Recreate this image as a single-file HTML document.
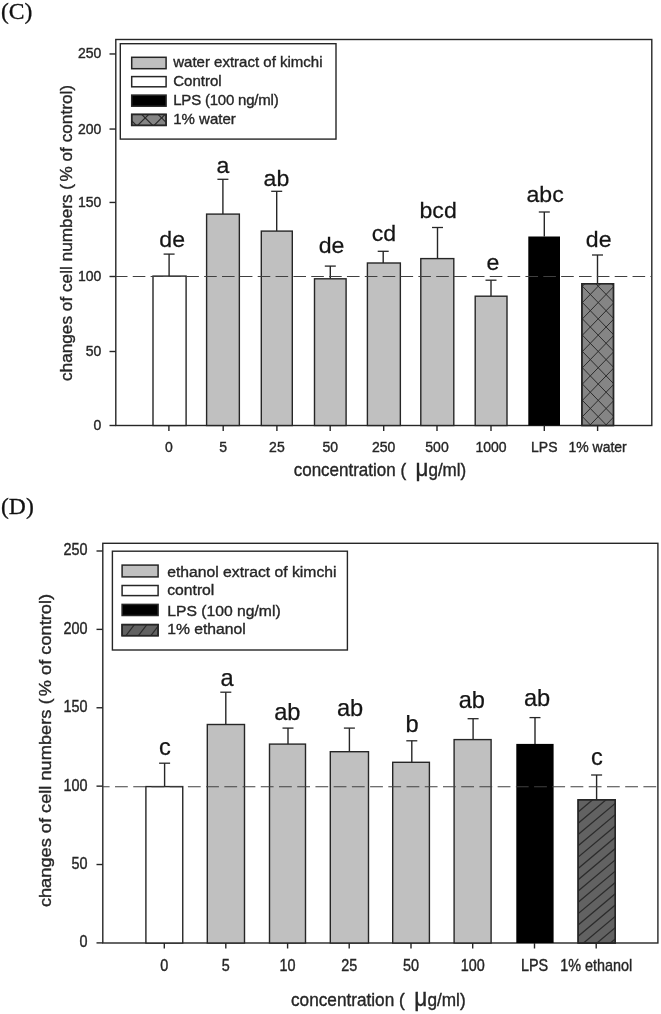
<!DOCTYPE html><html><head><meta charset="utf-8"><style>html,body{margin:0;padding:0;background:#fff}body{width:661px;height:1014px;position:relative;overflow:hidden}</style></head><body><svg width="661" height="1014" viewBox="0 0 661 1014" style="position:absolute;left:0;top:0;will-change:transform;filter:grayscale(1);font-family:'Liberation Sans',sans-serif">
<rect width="661" height="1014" fill="#fff"/>
<text x="1" y="18.7" font-size="23.6" font-family="'Liberation Serif',serif" fill="#111" stroke="#111" stroke-width="0.3">(C)</text>
<text x="1" y="514" font-size="23.6" font-family="'Liberation Serif',serif" fill="#111" stroke="#111" stroke-width="0.3">(D)</text>
<rect x="115.8" y="39.5" width="536.0" height="386.0" fill="#fff" stroke="#262626" stroke-width="1.4"/>
<line x1="109.5" y1="425.50" x2="115.8" y2="425.50" stroke="#262626" stroke-width="1.4"/>
<text transform="translate(101.3,430.0) scale(1,1.09)" font-size="14" text-anchor="end" fill="#262626"  stroke="#262626" stroke-width="0.35">0</text>
<line x1="109.5" y1="351.50" x2="115.8" y2="351.50" stroke="#262626" stroke-width="1.4"/>
<text transform="translate(101.3,356.0) scale(1,1.09)" font-size="14" text-anchor="end" fill="#262626"  stroke="#262626" stroke-width="0.35">50</text>
<line x1="109.5" y1="276.50" x2="115.8" y2="276.50" stroke="#262626" stroke-width="1.4"/>
<text transform="translate(101.3,281.0) scale(1,1.09)" font-size="14" text-anchor="end" fill="#262626"  stroke="#262626" stroke-width="0.35">100</text>
<line x1="109.5" y1="202.45" x2="115.8" y2="202.45" stroke="#262626" stroke-width="1.4"/>
<text transform="translate(101.3,206.95) scale(1,1.09)" font-size="14" text-anchor="end" fill="#262626"  stroke="#262626" stroke-width="0.35">150</text>
<line x1="109.5" y1="129.05" x2="115.8" y2="129.05" stroke="#262626" stroke-width="1.4"/>
<text transform="translate(101.3,133.55) scale(1,1.09)" font-size="14" text-anchor="end" fill="#262626"  stroke="#262626" stroke-width="0.35">200</text>
<line x1="109.5" y1="53.97" x2="115.8" y2="53.97" stroke="#262626" stroke-width="1.4"/>
<text transform="translate(101.3,58.47) scale(1,1.09)" font-size="14" text-anchor="end" fill="#262626"  stroke="#262626" stroke-width="0.35">250</text>
<line x1="169.1" y1="276.1" x2="169.1" y2="254.1" stroke="#262626" stroke-width="1.4"/>
<line x1="163.6" y1="254.1" x2="174.6" y2="254.1" stroke="#262626" stroke-width="1.3"/>
<rect x="153.00" y="276.1" width="33.10" height="149.40" fill="#fff" stroke="#262626" stroke-width="1.4"/>
<text transform="translate(172.2,247.1) scale(1.05,1)" font-size="22" text-anchor="middle" fill="#151515"  stroke="#151515" stroke-width="0.25">de</text>
<line x1="168.9" y1="425.5" x2="168.9" y2="431.0" stroke="#262626" stroke-width="1.4"/>
<text transform="translate(168.9,452) scale(1,1.09)" font-size="14" text-anchor="middle" fill="#262626"  stroke="#262626" stroke-width="0.35">0</text>
<line x1="222.9" y1="214.1" x2="222.9" y2="179.3" stroke="#262626" stroke-width="1.4"/>
<line x1="217.4" y1="179.3" x2="228.4" y2="179.3" stroke="#262626" stroke-width="1.3"/>
<rect x="206.60" y="214.1" width="32.75" height="211.40" fill="#c0c0c0" stroke="#262626" stroke-width="1.4"/>
<text transform="translate(223,173.4) scale(1.05,1)" font-size="22" text-anchor="middle" fill="#151515"  stroke="#151515" stroke-width="0.25">a</text>
<line x1="223.2" y1="425.5" x2="223.2" y2="431.0" stroke="#262626" stroke-width="1.4"/>
<text transform="translate(223.2,452) scale(1,1.09)" font-size="14" text-anchor="middle" fill="#262626"  stroke="#262626" stroke-width="0.35">5</text>
<line x1="276.7" y1="231.1" x2="276.7" y2="191.3" stroke="#262626" stroke-width="1.4"/>
<line x1="271.2" y1="191.3" x2="282.2" y2="191.3" stroke="#262626" stroke-width="1.3"/>
<rect x="261.30" y="231.1" width="31.00" height="194.40" fill="#c0c0c0" stroke="#262626" stroke-width="1.4"/>
<text transform="translate(276.4,185.6) scale(1.05,1)" font-size="22" text-anchor="middle" fill="#151515"  stroke="#151515" stroke-width="0.25">ab</text>
<line x1="276.9" y1="425.5" x2="276.9" y2="431.0" stroke="#262626" stroke-width="1.4"/>
<text transform="translate(276.9,452) scale(1,1.09)" font-size="14" text-anchor="middle" fill="#262626"  stroke="#262626" stroke-width="0.35">25</text>
<line x1="330.3" y1="278.8" x2="330.3" y2="266.1" stroke="#262626" stroke-width="1.4"/>
<line x1="324.8" y1="266.1" x2="335.8" y2="266.1" stroke="#262626" stroke-width="1.3"/>
<rect x="314.50" y="278.8" width="31.60" height="146.70" fill="#c0c0c0" stroke="#262626" stroke-width="1.4"/>
<text transform="translate(331.6,253.1) scale(1.05,1)" font-size="22" text-anchor="middle" fill="#151515"  stroke="#151515" stroke-width="0.25">de</text>
<line x1="330.2" y1="425.5" x2="330.2" y2="431.0" stroke="#262626" stroke-width="1.4"/>
<text transform="translate(330.2,452) scale(1,1.09)" font-size="14" text-anchor="middle" fill="#262626"  stroke="#262626" stroke-width="0.35">50</text>
<line x1="383.2" y1="263" x2="383.2" y2="251.3" stroke="#262626" stroke-width="1.4"/>
<line x1="377.7" y1="251.3" x2="388.7" y2="251.3" stroke="#262626" stroke-width="1.3"/>
<rect x="367.40" y="263" width="32.95" height="162.50" fill="#c0c0c0" stroke="#262626" stroke-width="1.4"/>
<text transform="translate(384,241.2) scale(1.05,1)" font-size="22" text-anchor="middle" fill="#151515"  stroke="#151515" stroke-width="0.25">cd</text>
<line x1="383.7" y1="425.5" x2="383.7" y2="431.0" stroke="#262626" stroke-width="1.4"/>
<text transform="translate(383.7,452) scale(1,1.09)" font-size="14" text-anchor="middle" fill="#262626"  stroke="#262626" stroke-width="0.35">250</text>
<line x1="437.5" y1="258.6" x2="437.5" y2="227.5" stroke="#262626" stroke-width="1.4"/>
<line x1="432.0" y1="227.5" x2="443.0" y2="227.5" stroke="#262626" stroke-width="1.3"/>
<rect x="420.80" y="258.6" width="33.00" height="166.90" fill="#c0c0c0" stroke="#262626" stroke-width="1.4"/>
<text transform="translate(438.1,218.3) scale(1.05,1)" font-size="22" text-anchor="middle" fill="#151515"  stroke="#151515" stroke-width="0.25">bcd</text>
<line x1="437.0" y1="425.5" x2="437.0" y2="431.0" stroke="#262626" stroke-width="1.4"/>
<text transform="translate(437.0,452) scale(1,1.09)" font-size="14" text-anchor="middle" fill="#262626"  stroke="#262626" stroke-width="0.35">500</text>
<line x1="491" y1="296.2" x2="491" y2="280.2" stroke="#262626" stroke-width="1.4"/>
<line x1="485.5" y1="280.2" x2="496.5" y2="280.2" stroke="#262626" stroke-width="1.3"/>
<rect x="475.20" y="296.2" width="31.80" height="129.30" fill="#c0c0c0" stroke="#262626" stroke-width="1.4"/>
<text transform="translate(493,270) scale(1.05,1)" font-size="22" text-anchor="middle" fill="#151515"  stroke="#151515" stroke-width="0.25">e</text>
<line x1="491.0" y1="425.5" x2="491.0" y2="431.0" stroke="#262626" stroke-width="1.4"/>
<text transform="translate(491.0,452) scale(1,1.09)" font-size="14" text-anchor="middle" fill="#262626"  stroke="#262626" stroke-width="0.35">1000</text>
<line x1="544.3" y1="236.5" x2="544.3" y2="212" stroke="#262626" stroke-width="1.4"/>
<line x1="538.8" y1="212" x2="549.8" y2="212" stroke="#262626" stroke-width="1.3"/>
<rect x="528.30" y="236.5" width="31.70" height="189.00" fill="#000"/>
<text transform="translate(545.1,202.2) scale(1.05,1)" font-size="22" text-anchor="middle" fill="#151515"  stroke="#151515" stroke-width="0.25">abc</text>
<line x1="544.3" y1="425.5" x2="544.3" y2="431.0" stroke="#262626" stroke-width="1.4"/>
<text transform="translate(544.3,452) scale(1,1.09)" font-size="14" text-anchor="middle" fill="#262626"  stroke="#262626" stroke-width="0.35">LPS</text>
<line x1="597.5" y1="283.7" x2="597.5" y2="255" stroke="#262626" stroke-width="1.4"/>
<line x1="592.0" y1="255" x2="603.0" y2="255" stroke="#262626" stroke-width="1.3"/>
<rect x="581.90" y="283.7" width="31.60" height="141.80" fill="#858585" stroke="#262626" stroke-width="1.4"/>
<clipPath id="c1"><rect x="581.90" y="283.70" width="31.60" height="141.80"/></clipPath><g clip-path="url(#c1)"><path d="M-278.70 49.90L195.30 538.90M-278.70 538.90L195.30 49.90M-262.90 49.90L211.10 538.90M-262.90 538.90L211.10 49.90M-247.10 49.90L226.90 538.90M-247.10 538.90L226.90 49.90M-231.30 49.90L242.70 538.90M-231.30 538.90L242.70 49.90M-215.50 49.90L258.50 538.90M-215.50 538.90L258.50 49.90M-199.70 49.90L274.30 538.90M-199.70 538.90L274.30 49.90M-183.90 49.90L290.10 538.90M-183.90 538.90L290.10 49.90M-168.10 49.90L305.90 538.90M-168.10 538.90L305.90 49.90M-152.30 49.90L321.70 538.90M-152.30 538.90L321.70 49.90M-136.50 49.90L337.50 538.90M-136.50 538.90L337.50 49.90M-120.70 49.90L353.30 538.90M-120.70 538.90L353.30 49.90M-104.90 49.90L369.10 538.90M-104.90 538.90L369.10 49.90M-89.10 49.90L384.90 538.90M-89.10 538.90L384.90 49.90M-73.30 49.90L400.70 538.90M-73.30 538.90L400.70 49.90M-57.50 49.90L416.50 538.90M-57.50 538.90L416.50 49.90M-41.70 49.90L432.30 538.90M-41.70 538.90L432.30 49.90M-25.90 49.90L448.10 538.90M-25.90 538.90L448.10 49.90M-10.10 49.90L463.90 538.90M-10.10 538.90L463.90 49.90M5.70 49.90L479.70 538.90M5.70 538.90L479.70 49.90M21.50 49.90L495.50 538.90M21.50 538.90L495.50 49.90M37.30 49.90L511.30 538.90M37.30 538.90L511.30 49.90M53.10 49.90L527.10 538.90M53.10 538.90L527.10 49.90M68.90 49.90L542.90 538.90M68.90 538.90L542.90 49.90M84.70 49.90L558.70 538.90M84.70 538.90L558.70 49.90M100.50 49.90L574.50 538.90M100.50 538.90L574.50 49.90M116.30 49.90L590.30 538.90M116.30 538.90L590.30 49.90M132.10 49.90L606.10 538.90M132.10 538.90L606.10 49.90M147.90 49.90L621.90 538.90M147.90 538.90L621.90 49.90M163.70 49.90L637.70 538.90M163.70 538.90L637.70 49.90M179.50 49.90L653.50 538.90M179.50 538.90L653.50 49.90M195.30 49.90L669.30 538.90M195.30 538.90L669.30 49.90M211.10 49.90L685.10 538.90M211.10 538.90L685.10 49.90M226.90 49.90L700.90 538.90M226.90 538.90L700.90 49.90M242.70 49.90L716.70 538.90M242.70 538.90L716.70 49.90M258.50 49.90L732.50 538.90M258.50 538.90L732.50 49.90M274.30 49.90L748.30 538.90M274.30 538.90L748.30 49.90M290.10 49.90L764.10 538.90M290.10 538.90L764.10 49.90M305.90 49.90L779.90 538.90M305.90 538.90L779.90 49.90M321.70 49.90L795.70 538.90M321.70 538.90L795.70 49.90M337.50 49.90L811.50 538.90M337.50 538.90L811.50 49.90M353.30 49.90L827.30 538.90M353.30 538.90L827.30 49.90M369.10 49.90L843.10 538.90M369.10 538.90L843.10 49.90M384.90 49.90L858.90 538.90M384.90 538.90L858.90 49.90M400.70 49.90L874.70 538.90M400.70 538.90L874.70 49.90M416.50 49.90L890.50 538.90M416.50 538.90L890.50 49.90M432.30 49.90L906.30 538.90M432.30 538.90L906.30 49.90M448.10 49.90L922.10 538.90M448.10 538.90L922.10 49.90M463.90 49.90L937.90 538.90M463.90 538.90L937.90 49.90M479.70 49.90L953.70 538.90M479.70 538.90L953.70 49.90M495.50 49.90L969.50 538.90M495.50 538.90L969.50 49.90M511.30 49.90L985.30 538.90M511.30 538.90L985.30 49.90M527.10 49.90L1001.10 538.90M527.10 538.90L1001.10 49.90M542.90 49.90L1016.90 538.90M542.90 538.90L1016.90 49.90M558.70 49.90L1032.70 538.90M558.70 538.90L1032.70 49.90M574.50 49.90L1048.50 538.90M574.50 538.90L1048.50 49.90M590.30 49.90L1064.30 538.90M590.30 538.90L1064.30 49.90M606.10 49.90L1080.10 538.90M606.10 538.90L1080.10 49.90M621.90 49.90L1095.90 538.90M621.90 538.90L1095.90 49.90M637.70 49.90L1111.70 538.90M637.70 538.90L1111.70 49.90M653.50 49.90L1127.50 538.90M653.50 538.90L1127.50 49.90M669.30 49.90L1143.30 538.90M669.30 538.90L1143.30 49.90M685.10 49.90L1159.10 538.90M685.10 538.90L1159.10 49.90M700.90 49.90L1174.90 538.90M700.90 538.90L1174.90 49.90M716.70 49.90L1190.70 538.90M716.70 538.90L1190.70 49.90M732.50 49.90L1206.50 538.90M732.50 538.90L1206.50 49.90M748.30 49.90L1222.30 538.90M748.30 538.90L1222.30 49.90M764.10 49.90L1238.10 538.90M764.10 538.90L1238.10 49.90M779.90 49.90L1253.90 538.90M779.90 538.90L1253.90 49.90M795.70 49.90L1269.70 538.90M795.70 538.90L1269.70 49.90M811.50 49.90L1285.50 538.90M811.50 538.90L1285.50 49.90M827.30 49.90L1301.30 538.90M827.30 538.90L1301.30 49.90M843.10 49.90L1317.10 538.90M843.10 538.90L1317.10 49.90M858.90 49.90L1332.90 538.90M858.90 538.90L1332.90 49.90M874.70 49.90L1348.70 538.90M874.70 538.90L1348.70 49.90M890.50 49.90L1364.50 538.90M890.50 538.90L1364.50 49.90M906.30 49.90L1380.30 538.90M906.30 538.90L1380.30 49.90M922.10 49.90L1396.10 538.90M922.10 538.90L1396.10 49.90M937.90 49.90L1411.90 538.90M937.90 538.90L1411.90 49.90M953.70 49.90L1427.70 538.90M953.70 538.90L1427.70 49.90M969.50 49.90L1443.50 538.90M969.50 538.90L1443.50 49.90" stroke="#2c2c2c" stroke-width="1.0" fill="none"/></g>
<rect x="581.90" y="283.7" width="31.60" height="141.80" fill="none" stroke="#262626" stroke-width="1.4"/>
<text transform="translate(598.7,246.6) scale(1.05,1)" font-size="22" text-anchor="middle" fill="#151515"  stroke="#151515" stroke-width="0.25">de</text>
<line x1="597.6" y1="425.5" x2="597.6" y2="431.0" stroke="#262626" stroke-width="1.4"/>
<text transform="translate(597.6,452) scale(1,1.09)" font-size="14" text-anchor="middle" fill="#262626"  stroke="#262626" stroke-width="0.35">1% water</text>
<line x1="115.8" y1="276.5" x2="651.8" y2="276.5" stroke="#404040" stroke-width="1.15" stroke-dasharray="12.6 5.25" stroke-dashoffset="0.9"/>
<rect x="120.3" y="43.7" width="215.7" height="95.39999999999999" fill="#fff" stroke="#262626" stroke-width="1.4"/>
<rect x="131.7" y="57.3" width="34.40" height="11.40" fill="#c0c0c0" stroke="#262626" stroke-width="1.5"/>
<text transform="translate(173.2,66.7) scale(1.05,1)" font-size="14.3" text-anchor="start" fill="#262626"  stroke="#262626" stroke-width="0.35">water extract of kimchi</text>
<rect x="131.7" y="76.6" width="34.40" height="10.20" fill="#fff" stroke="#262626" stroke-width="1.5"/>
<text transform="translate(173.2,85.7) scale(1.05,1)" font-size="14.3" text-anchor="start" fill="#262626"  stroke="#262626" stroke-width="0.35">Control</text>
<rect x="131.7" y="95.1" width="34.40" height="11.10" fill="#000" stroke="#262626" stroke-width="1.5"/>
<text transform="translate(173.2,104.8) scale(1.05,1)" font-size="14.3" text-anchor="start" fill="#262626" letter-spacing="-0.2" stroke="#262626" stroke-width="0.35">LPS (100 ng/ml)</text>
<rect x="131.7" y="114.4" width="34.40" height="11.00" fill="#858585" stroke="#262626" stroke-width="1.5"/>
<clipPath id="c2"><rect x="131.70" y="114.40" width="34.40" height="11.00"/></clipPath><g clip-path="url(#c2)"><path d="M-756.80 -126.60L-264.80 362.40M-756.80 362.40L-264.80 -126.60M-740.40 -126.60L-248.40 362.40M-740.40 362.40L-248.40 -126.60M-724.00 -126.60L-232.00 362.40M-724.00 362.40L-232.00 -126.60M-707.60 -126.60L-215.60 362.40M-707.60 362.40L-215.60 -126.60M-691.20 -126.60L-199.20 362.40M-691.20 362.40L-199.20 -126.60M-674.80 -126.60L-182.80 362.40M-674.80 362.40L-182.80 -126.60M-658.40 -126.60L-166.40 362.40M-658.40 362.40L-166.40 -126.60M-642.00 -126.60L-150.00 362.40M-642.00 362.40L-150.00 -126.60M-625.60 -126.60L-133.60 362.40M-625.60 362.40L-133.60 -126.60M-609.20 -126.60L-117.20 362.40M-609.20 362.40L-117.20 -126.60M-592.80 -126.60L-100.80 362.40M-592.80 362.40L-100.80 -126.60M-576.40 -126.60L-84.40 362.40M-576.40 362.40L-84.40 -126.60M-560.00 -126.60L-68.00 362.40M-560.00 362.40L-68.00 -126.60M-543.60 -126.60L-51.60 362.40M-543.60 362.40L-51.60 -126.60M-527.20 -126.60L-35.20 362.40M-527.20 362.40L-35.20 -126.60M-510.80 -126.60L-18.80 362.40M-510.80 362.40L-18.80 -126.60M-494.40 -126.60L-2.40 362.40M-494.40 362.40L-2.40 -126.60M-478.00 -126.60L14.00 362.40M-478.00 362.40L14.00 -126.60M-461.60 -126.60L30.40 362.40M-461.60 362.40L30.40 -126.60M-445.20 -126.60L46.80 362.40M-445.20 362.40L46.80 -126.60M-428.80 -126.60L63.20 362.40M-428.80 362.40L63.20 -126.60M-412.40 -126.60L79.60 362.40M-412.40 362.40L79.60 -126.60M-396.00 -126.60L96.00 362.40M-396.00 362.40L96.00 -126.60M-379.60 -126.60L112.40 362.40M-379.60 362.40L112.40 -126.60M-363.20 -126.60L128.80 362.40M-363.20 362.40L128.80 -126.60M-346.80 -126.60L145.20 362.40M-346.80 362.40L145.20 -126.60M-330.40 -126.60L161.60 362.40M-330.40 362.40L161.60 -126.60M-314.00 -126.60L178.00 362.40M-314.00 362.40L178.00 -126.60M-297.60 -126.60L194.40 362.40M-297.60 362.40L194.40 -126.60M-281.20 -126.60L210.80 362.40M-281.20 362.40L210.80 -126.60M-264.80 -126.60L227.20 362.40M-264.80 362.40L227.20 -126.60M-248.40 -126.60L243.60 362.40M-248.40 362.40L243.60 -126.60M-232.00 -126.60L260.00 362.40M-232.00 362.40L260.00 -126.60M-215.60 -126.60L276.40 362.40M-215.60 362.40L276.40 -126.60M-199.20 -126.60L292.80 362.40M-199.20 362.40L292.80 -126.60M-182.80 -126.60L309.20 362.40M-182.80 362.40L309.20 -126.60M-166.40 -126.60L325.60 362.40M-166.40 362.40L325.60 -126.60M-150.00 -126.60L342.00 362.40M-150.00 362.40L342.00 -126.60M-133.60 -126.60L358.40 362.40M-133.60 362.40L358.40 -126.60M-117.20 -126.60L374.80 362.40M-117.20 362.40L374.80 -126.60M-100.80 -126.60L391.20 362.40M-100.80 362.40L391.20 -126.60M-84.40 -126.60L407.60 362.40M-84.40 362.40L407.60 -126.60M-68.00 -126.60L424.00 362.40M-68.00 362.40L424.00 -126.60M-51.60 -126.60L440.40 362.40M-51.60 362.40L440.40 -126.60M-35.20 -126.60L456.80 362.40M-35.20 362.40L456.80 -126.60M-18.80 -126.60L473.20 362.40M-18.80 362.40L473.20 -126.60M-2.40 -126.60L489.60 362.40M-2.40 362.40L489.60 -126.60M14.00 -126.60L506.00 362.40M14.00 362.40L506.00 -126.60M30.40 -126.60L522.40 362.40M30.40 362.40L522.40 -126.60M46.80 -126.60L538.80 362.40M46.80 362.40L538.80 -126.60M63.20 -126.60L555.20 362.40M63.20 362.40L555.20 -126.60M79.60 -126.60L571.60 362.40M79.60 362.40L571.60 -126.60M96.00 -126.60L588.00 362.40M96.00 362.40L588.00 -126.60M112.40 -126.60L604.40 362.40M112.40 362.40L604.40 -126.60M128.80 -126.60L620.80 362.40M128.80 362.40L620.80 -126.60M145.20 -126.60L637.20 362.40M145.20 362.40L637.20 -126.60M161.60 -126.60L653.60 362.40M161.60 362.40L653.60 -126.60M178.00 -126.60L670.00 362.40M178.00 362.40L670.00 -126.60M194.40 -126.60L686.40 362.40M194.40 362.40L686.40 -126.60M210.80 -126.60L702.80 362.40M210.80 362.40L702.80 -126.60M227.20 -126.60L719.20 362.40M227.20 362.40L719.20 -126.60M243.60 -126.60L735.60 362.40M243.60 362.40L735.60 -126.60M260.00 -126.60L752.00 362.40M260.00 362.40L752.00 -126.60M276.40 -126.60L768.40 362.40M276.40 362.40L768.40 -126.60M292.80 -126.60L784.80 362.40M292.80 362.40L784.80 -126.60M309.20 -126.60L801.20 362.40M309.20 362.40L801.20 -126.60M325.60 -126.60L817.60 362.40M325.60 362.40L817.60 -126.60M342.00 -126.60L834.00 362.40M342.00 362.40L834.00 -126.60M358.40 -126.60L850.40 362.40M358.40 362.40L850.40 -126.60M374.80 -126.60L866.80 362.40M374.80 362.40L866.80 -126.60M391.20 -126.60L883.20 362.40M391.20 362.40L883.20 -126.60M407.60 -126.60L899.60 362.40M407.60 362.40L899.60 -126.60M424.00 -126.60L916.00 362.40M424.00 362.40L916.00 -126.60M440.40 -126.60L932.40 362.40M440.40 362.40L932.40 -126.60M456.80 -126.60L948.80 362.40M456.80 362.40L948.80 -126.60M473.20 -126.60L965.20 362.40M473.20 362.40L965.20 -126.60M489.60 -126.60L981.60 362.40M489.60 362.40L981.60 -126.60M506.00 -126.60L998.00 362.40M506.00 362.40L998.00 -126.60M522.40 -126.60L1014.40 362.40M522.40 362.40L1014.40 -126.60M538.80 -126.60L1030.80 362.40M538.80 362.40L1030.80 -126.60" stroke="#2c2c2c" stroke-width="1.2" fill="none"/></g>
<rect x="131.7" y="114.4" width="34.40" height="11.00" fill="none" stroke="#262626" stroke-width="1.5"/>
<text transform="translate(173.2,123.6) scale(1.05,1)" font-size="14.3" text-anchor="start" fill="#262626"  stroke="#262626" stroke-width="0.35">1% water</text>
<text transform="translate(71.9,233) rotate(-90) scale(1.038,1)" font-size="16.6" text-anchor="middle" fill="#262626" stroke="#262626" stroke-width="0.35">changes of cell numbers (<tspan dx="2.2">%</tspan> of control)</text>
<text transform="translate(293.7,476) scale(1,1.1)" font-size="17.0" fill="#262626" stroke="#262626" stroke-width="0.35" style="white-space:pre">concentration (  <tspan font-size="22.4">μ</tspan>g/ml)</text>
<rect x="102.8" y="543.3" width="555.1" height="399.70000000000005" fill="#fff" stroke="#262626" stroke-width="1.4"/>
<line x1="96.5" y1="942.90" x2="102.8" y2="942.90" stroke="#262626" stroke-width="1.4"/>
<text transform="translate(87.4,947.3) scale(1,1.09)" font-size="14.4" text-anchor="end" fill="#262626"  stroke="#262626" stroke-width="0.35">0</text>
<line x1="96.5" y1="864.52" x2="102.8" y2="864.52" stroke="#262626" stroke-width="1.4"/>
<text transform="translate(87.4,868.92) scale(1,1.09)" font-size="14.4" text-anchor="end" fill="#262626"  stroke="#262626" stroke-width="0.35">50</text>
<line x1="96.5" y1="786.14" x2="102.8" y2="786.14" stroke="#262626" stroke-width="1.4"/>
<text transform="translate(87.4,790.54) scale(1,1.09)" font-size="14.4" text-anchor="end" fill="#262626"  stroke="#262626" stroke-width="0.35">100</text>
<line x1="96.5" y1="707.76" x2="102.8" y2="707.76" stroke="#262626" stroke-width="1.4"/>
<text transform="translate(87.4,712.16) scale(1,1.09)" font-size="14.4" text-anchor="end" fill="#262626"  stroke="#262626" stroke-width="0.35">150</text>
<line x1="96.5" y1="629.38" x2="102.8" y2="629.38" stroke="#262626" stroke-width="1.4"/>
<text transform="translate(87.4,633.78) scale(1,1.09)" font-size="14.4" text-anchor="end" fill="#262626"  stroke="#262626" stroke-width="0.35">200</text>
<line x1="96.5" y1="551.00" x2="102.8" y2="551.00" stroke="#262626" stroke-width="1.4"/>
<text transform="translate(87.4,555.4) scale(1,1.09)" font-size="14.4" text-anchor="end" fill="#262626"  stroke="#262626" stroke-width="0.35">250</text>
<line x1="164.6" y1="786.6" x2="164.6" y2="763.2" stroke="#262626" stroke-width="1.4"/>
<line x1="159.1" y1="763.2" x2="170.1" y2="763.2" stroke="#262626" stroke-width="1.3"/>
<rect x="145.90" y="786.6" width="36.85" height="156.40" fill="#fff" stroke="#262626" stroke-width="1.4"/>
<text transform="translate(164.8,754.8)" font-size="23.6" text-anchor="middle" fill="#151515"  stroke="#151515" stroke-width="0.25">c</text>
<line x1="164.3" y1="943" x2="164.3" y2="948.5" stroke="#262626" stroke-width="1.4"/>
<text transform="translate(164.3,971.3) scale(1,1.09)" font-size="14.4" text-anchor="middle" fill="#262626"  stroke="#262626" stroke-width="0.35">0</text>
<line x1="225.8" y1="724.5" x2="225.8" y2="692.2" stroke="#262626" stroke-width="1.4"/>
<line x1="220.3" y1="692.2" x2="231.3" y2="692.2" stroke="#262626" stroke-width="1.3"/>
<rect x="207.30" y="724.5" width="37.20" height="218.50" fill="#c0c0c0" stroke="#262626" stroke-width="1.4"/>
<text transform="translate(227,685.7)" font-size="23.6" text-anchor="middle" fill="#151515"  stroke="#151515" stroke-width="0.25">a</text>
<line x1="225.8" y1="943" x2="225.8" y2="948.5" stroke="#262626" stroke-width="1.4"/>
<text transform="translate(225.8,971.3) scale(1,1.09)" font-size="14.4" text-anchor="middle" fill="#262626"  stroke="#262626" stroke-width="0.35">5</text>
<line x1="288" y1="744.1" x2="288" y2="728.1" stroke="#262626" stroke-width="1.4"/>
<line x1="282.5" y1="728.1" x2="293.5" y2="728.1" stroke="#262626" stroke-width="1.3"/>
<rect x="269.50" y="744.1" width="36.00" height="198.90" fill="#c0c0c0" stroke="#262626" stroke-width="1.4"/>
<text transform="translate(287.3,719.6)" font-size="23.6" text-anchor="middle" fill="#151515"  stroke="#151515" stroke-width="0.25">ab</text>
<line x1="287.6" y1="943" x2="287.6" y2="948.5" stroke="#262626" stroke-width="1.4"/>
<text transform="translate(287.6,971.3) scale(1,1.09)" font-size="14.4" text-anchor="middle" fill="#262626"  stroke="#262626" stroke-width="0.35">10</text>
<line x1="349.4" y1="751.7" x2="349.4" y2="728.1" stroke="#262626" stroke-width="1.4"/>
<line x1="343.9" y1="728.1" x2="354.9" y2="728.1" stroke="#262626" stroke-width="1.3"/>
<rect x="330.30" y="751.7" width="38.20" height="191.30" fill="#c0c0c0" stroke="#262626" stroke-width="1.4"/>
<text transform="translate(350.1,716.4)" font-size="23.6" text-anchor="middle" fill="#151515"  stroke="#151515" stroke-width="0.25">ab</text>
<line x1="349.2" y1="943" x2="349.2" y2="948.5" stroke="#262626" stroke-width="1.4"/>
<text transform="translate(349.2,971.3) scale(1,1.09)" font-size="14.4" text-anchor="middle" fill="#262626"  stroke="#262626" stroke-width="0.35">25</text>
<line x1="411.8" y1="762.3" x2="411.8" y2="740.8" stroke="#262626" stroke-width="1.4"/>
<line x1="406.3" y1="740.8" x2="417.3" y2="740.8" stroke="#262626" stroke-width="1.3"/>
<rect x="392.70" y="762.3" width="36.70" height="180.70" fill="#c0c0c0" stroke="#262626" stroke-width="1.4"/>
<text transform="translate(412.1,732.3)" font-size="23.6" text-anchor="middle" fill="#151515"  stroke="#151515" stroke-width="0.25">b</text>
<line x1="411.0" y1="943" x2="411.0" y2="948.5" stroke="#262626" stroke-width="1.4"/>
<text transform="translate(411.0,971.3) scale(1,1.09)" font-size="14.4" text-anchor="middle" fill="#262626"  stroke="#262626" stroke-width="0.35">50</text>
<line x1="473.1" y1="739.6" x2="473.1" y2="718.7" stroke="#262626" stroke-width="1.4"/>
<line x1="467.6" y1="718.7" x2="478.6" y2="718.7" stroke="#262626" stroke-width="1.3"/>
<rect x="454.10" y="739.6" width="37.00" height="203.40" fill="#c0c0c0" stroke="#262626" stroke-width="1.4"/>
<text transform="translate(471.8,707.7)" font-size="23.6" text-anchor="middle" fill="#151515"  stroke="#151515" stroke-width="0.25">ab</text>
<line x1="472.7" y1="943" x2="472.7" y2="948.5" stroke="#262626" stroke-width="1.4"/>
<text transform="translate(472.7,971.3) scale(1,1.09)" font-size="14.4" text-anchor="middle" fill="#262626"  stroke="#262626" stroke-width="0.35">100</text>
<line x1="535" y1="743.9" x2="535" y2="717.6" stroke="#262626" stroke-width="1.4"/>
<line x1="529.5" y1="717.6" x2="540.5" y2="717.6" stroke="#262626" stroke-width="1.3"/>
<rect x="516.30" y="743.9" width="37.30" height="199.10" fill="#000"/>
<text transform="translate(537,706.2)" font-size="23.6" text-anchor="middle" fill="#151515"  stroke="#151515" stroke-width="0.25">ab</text>
<line x1="534.5" y1="943" x2="534.5" y2="948.5" stroke="#262626" stroke-width="1.4"/>
<text transform="translate(534.5,971.3) scale(1,1.09)" font-size="14.4" text-anchor="middle" fill="#262626"  stroke="#262626" stroke-width="0.35">LPS</text>
<line x1="596.6" y1="799.8" x2="596.6" y2="775" stroke="#262626" stroke-width="1.4"/>
<line x1="591.1" y1="775" x2="602.1" y2="775" stroke="#262626" stroke-width="1.3"/>
<rect x="578.10" y="799.8" width="37.20" height="143.20" fill="#626262" stroke="#262626" stroke-width="1.4"/>
<clipPath id="c3"><rect x="578.10" y="799.80" width="37.20" height="143.20"/></clipPath><g clip-path="url(#c3)"><path d="M527.10 515.80L677.10 389.80M527.10 527.10L677.10 401.10M527.10 538.40L677.10 412.40M527.10 549.70L677.10 423.70M527.10 561.00L677.10 435.00M527.10 572.30L677.10 446.30M527.10 583.60L677.10 457.60M527.10 594.90L677.10 468.90M527.10 606.20L677.10 480.20M527.10 617.50L677.10 491.50M527.10 628.80L677.10 502.80M527.10 640.10L677.10 514.10M527.10 651.40L677.10 525.40M527.10 662.70L677.10 536.70M527.10 674.00L677.10 548.00M527.10 685.30L677.10 559.30M527.10 696.60L677.10 570.60M527.10 707.90L677.10 581.90M527.10 719.20L677.10 593.20M527.10 730.50L677.10 604.50M527.10 741.80L677.10 615.80M527.10 753.10L677.10 627.10M527.10 764.40L677.10 638.40M527.10 775.70L677.10 649.70M527.10 787.00L677.10 661.00M527.10 798.30L677.10 672.30M527.10 809.60L677.10 683.60M527.10 820.90L677.10 694.90M527.10 832.20L677.10 706.20M527.10 843.50L677.10 717.50M527.10 854.80L677.10 728.80M527.10 866.10L677.10 740.10M527.10 877.40L677.10 751.40M527.10 888.70L677.10 762.70M527.10 900.00L677.10 774.00M527.10 911.30L677.10 785.30M527.10 922.60L677.10 796.60M527.10 933.90L677.10 807.90M527.10 945.20L677.10 819.20M527.10 956.50L677.10 830.50M527.10 967.80L677.10 841.80M527.10 979.10L677.10 853.10M527.10 990.40L677.10 864.40M527.10 1001.70L677.10 875.70M527.10 1013.00L677.10 887.00M527.10 1024.30L677.10 898.30M527.10 1035.60L677.10 909.60M527.10 1046.90L677.10 920.90M527.10 1058.20L677.10 932.20M527.10 1069.50L677.10 943.50M527.10 1080.80L677.10 954.80M527.10 1092.10L677.10 966.10M527.10 1103.40L677.10 977.40M527.10 1114.70L677.10 988.70M527.10 1126.00L677.10 1000.00M527.10 1137.30L677.10 1011.30M527.10 1148.60L677.10 1022.60M527.10 1159.90L677.10 1033.90M527.10 1171.20L677.10 1045.20M527.10 1182.50L677.10 1056.50M527.10 1193.80L677.10 1067.80M527.10 1205.10L677.10 1079.10M527.10 1216.40L677.10 1090.40M527.10 1227.70L677.10 1101.70M527.10 1239.00L677.10 1113.00M527.10 1250.30L677.10 1124.30M527.10 1261.60L677.10 1135.60M527.10 1272.90L677.10 1146.90M527.10 1284.20L677.10 1158.20M527.10 1295.50L677.10 1169.50M527.10 1306.80L677.10 1180.80M527.10 1318.10L677.10 1192.10M527.10 1329.40L677.10 1203.40M527.10 1340.70L677.10 1214.70M527.10 1352.00L677.10 1226.00M527.10 1363.30L677.10 1237.30M527.10 1374.60L677.10 1248.60M527.10 1385.90L677.10 1259.90M527.10 1397.20L677.10 1271.20M527.10 1408.50L677.10 1282.50M527.10 1419.80L677.10 1293.80M527.10 1431.10L677.10 1305.10M527.10 1442.40L677.10 1316.40M527.10 1453.70L677.10 1327.70M527.10 1465.00L677.10 1339.00M527.10 1476.30L677.10 1350.30M527.10 1487.60L677.10 1361.60M527.10 1498.90L677.10 1372.90M527.10 1510.20L677.10 1384.20M527.10 1521.50L677.10 1395.50" stroke="#2c2c2c" stroke-width="1.3" fill="none"/></g>
<rect x="578.10" y="799.8" width="37.20" height="143.20" fill="none" stroke="#262626" stroke-width="1.4"/>
<text transform="translate(597,765)" font-size="23.6" text-anchor="middle" fill="#151515"  stroke="#151515" stroke-width="0.25">c</text>
<line x1="596.2" y1="943" x2="596.2" y2="948.5" stroke="#262626" stroke-width="1.4"/>
<text transform="translate(596.2,971.3) scale(1,1.09)" font-size="14.4" text-anchor="middle" fill="#262626"  stroke="#262626" stroke-width="0.35">1% ethanol</text>
<line x1="102.8" y1="786.7" x2="657.9" y2="786.7" stroke="#404040" stroke-width="1.15" stroke-dasharray="12.8 5.42" stroke-dashoffset="6.0"/>
<rect x="112.4" y="551.2" width="234.99999999999997" height="98.79999999999995" fill="#fff" stroke="#262626" stroke-width="1.4"/>
<rect x="122.1" y="565.1" width="36.00" height="11.80" fill="#c0c0c0" stroke="#262626" stroke-width="1.5"/>
<text transform="translate(167.2,577.2) scale(1.055,1)" font-size="14.9" text-anchor="start" fill="#262626"  stroke="#262626" stroke-width="0.35">ethanol extract of kimchi</text>
<rect x="122.1" y="585.5" width="36.00" height="10.10" fill="#fff" stroke="#262626" stroke-width="1.5"/>
<text transform="translate(167.2,595.2) scale(1.055,1)" font-size="14.9" text-anchor="start" fill="#262626"  stroke="#262626" stroke-width="0.35">control</text>
<rect x="122.1" y="604.4" width="36.00" height="11.10" fill="#000" stroke="#262626" stroke-width="1.5"/>
<text transform="translate(167.2,616.1) scale(1.055,1)" font-size="14.9" text-anchor="start" fill="#262626"  stroke="#262626" stroke-width="0.35">LPS (100 ng/ml)</text>
<rect x="122.1" y="624.6" width="36.00" height="11.10" fill="#626262" stroke="#262626" stroke-width="1.5"/>
<clipPath id="c4"><rect x="122.10" y="624.60" width="36.00" height="11.10"/></clipPath><g clip-path="url(#c4)"><path d="M75.90 214.70L225.90 19.70M75.90 230.90L225.90 35.90M75.90 247.10L225.90 52.10M75.90 263.30L225.90 68.30M75.90 279.50L225.90 84.50M75.90 295.70L225.90 100.70M75.90 311.90L225.90 116.90M75.90 328.10L225.90 133.10M75.90 344.30L225.90 149.30M75.90 360.50L225.90 165.50M75.90 376.70L225.90 181.70M75.90 392.90L225.90 197.90M75.90 409.10L225.90 214.10M75.90 425.30L225.90 230.30M75.90 441.50L225.90 246.50M75.90 457.70L225.90 262.70M75.90 473.90L225.90 278.90M75.90 490.10L225.90 295.10M75.90 506.30L225.90 311.30M75.90 522.50L225.90 327.50M75.90 538.70L225.90 343.70M75.90 554.90L225.90 359.90M75.90 571.10L225.90 376.10M75.90 587.30L225.90 392.30M75.90 603.50L225.90 408.50M75.90 619.70L225.90 424.70M75.90 635.90L225.90 440.90M75.90 652.10L225.90 457.10M75.90 668.30L225.90 473.30M75.90 684.50L225.90 489.50M75.90 700.70L225.90 505.70M75.90 716.90L225.90 521.90M75.90 733.10L225.90 538.10M75.90 749.30L225.90 554.30M75.90 765.50L225.90 570.50M75.90 781.70L225.90 586.70M75.90 797.90L225.90 602.90M75.90 814.10L225.90 619.10M75.90 830.30L225.90 635.30M75.90 846.50L225.90 651.50M75.90 862.70L225.90 667.70M75.90 878.90L225.90 683.90M75.90 895.10L225.90 700.10M75.90 911.30L225.90 716.30M75.90 927.50L225.90 732.50M75.90 943.70L225.90 748.70M75.90 959.90L225.90 764.90M75.90 976.10L225.90 781.10M75.90 992.30L225.90 797.30M75.90 1008.50L225.90 813.50M75.90 1024.70L225.90 829.70M75.90 1040.90L225.90 845.90M75.90 1057.10L225.90 862.10M75.90 1073.30L225.90 878.30M75.90 1089.50L225.90 894.50M75.90 1105.70L225.90 910.70M75.90 1121.90L225.90 926.90M75.90 1138.10L225.90 943.10M75.90 1154.30L225.90 959.30M75.90 1170.50L225.90 975.50M75.90 1186.70L225.90 991.70M75.90 1202.90L225.90 1007.90M75.90 1219.10L225.90 1024.10M75.90 1235.30L225.90 1040.30M75.90 1251.50L225.90 1056.50M75.90 1267.70L225.90 1072.70M75.90 1283.90L225.90 1088.90M75.90 1300.10L225.90 1105.10M75.90 1316.30L225.90 1121.30M75.90 1332.50L225.90 1137.50M75.90 1348.70L225.90 1153.70M75.90 1364.90L225.90 1169.90M75.90 1381.10L225.90 1186.10M75.90 1397.30L225.90 1202.30M75.90 1413.50L225.90 1218.50M75.90 1429.70L225.90 1234.70M75.90 1445.90L225.90 1250.90M75.90 1462.10L225.90 1267.10M75.90 1478.30L225.90 1283.30M75.90 1494.50L225.90 1299.50M75.90 1510.70L225.90 1315.70M75.90 1526.90L225.90 1331.90M75.90 1543.10L225.90 1348.10M75.90 1559.30L225.90 1364.30M75.90 1575.50L225.90 1380.50M75.90 1591.70L225.90 1396.70M75.90 1607.90L225.90 1412.90M75.90 1624.10L225.90 1429.10M75.90 1640.30L225.90 1445.30M75.90 1656.50L225.90 1461.50" stroke="#2c2c2c" stroke-width="1.2" fill="none"/></g>
<rect x="122.1" y="624.6" width="36.00" height="11.10" fill="none" stroke="#262626" stroke-width="1.5"/>
<text transform="translate(167.2,634) scale(1.055,1)" font-size="14.9" text-anchor="start" fill="#262626"  stroke="#262626" stroke-width="0.35">1% ethanol</text>
<text transform="translate(50.5,750.5) rotate(-90) scale(1.098,1)" font-size="16.6" text-anchor="middle" fill="#262626" stroke="#262626" stroke-width="0.35">changes of cell numbers (<tspan dx="2.2">%</tspan> of control)</text>
<text transform="translate(291,1006) scale(1,1.1)" font-size="17.2" fill="#262626" stroke="#262626" stroke-width="0.35" style="white-space:pre">concentration (  <tspan font-size="22.7">μ</tspan>g/ml)</text>
</svg></body></html>
